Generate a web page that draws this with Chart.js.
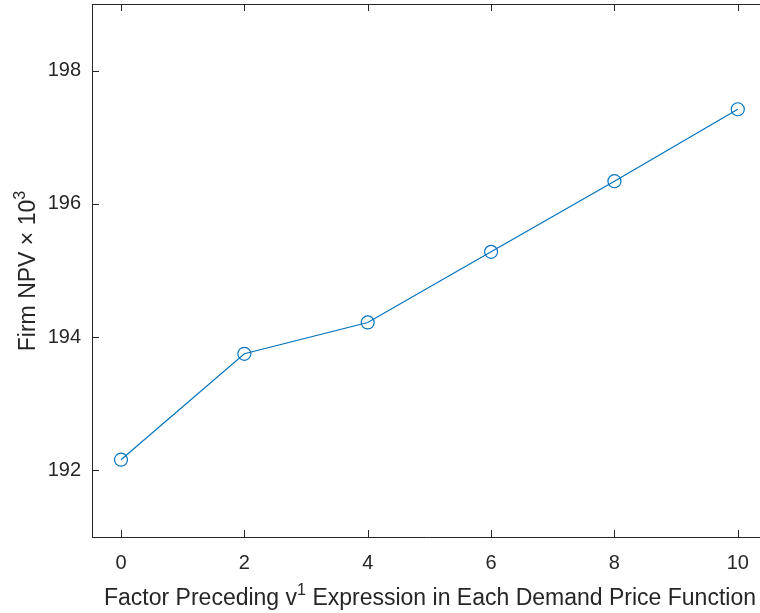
<!DOCTYPE html>
<html>
<head>
<meta charset="utf-8">
<script src="https://cdn.jsdelivr.net/npm/chart.js@4.4.0/dist/chart.umd.min.js"></script>
<style>
  html, body { margin: 0; padding: 0; background: #fff; overflow: hidden; }
  #wrap { width: 760px; height: 613px; position: relative; }
</style>
</head>
<body>
<div id="wrap"><canvas id="chart"></canvas></div>
<script>
// data
const factorValues = [0, 2, 4, 6, 8, 10];
const npvValues = [192.16, 193.75, 194.22, 195.28, 196.34, 197.42];
const xTickValues = [0, 2, 4, 6, 8, 10];
const yTickValues = [192, 194, 196, 198];

const axisColor = "#262626";
const lineColor = "#0072BD";
const fontName = "'Liberation Sans', Arial, sans-serif";

// draws text parts, some of them raised as superscripts
function drawParts(ctx, parts, size) {
    let total = 0;
    parts.forEach(p => {
        ctx.font = (p.sup ? size * 0.7 : size) + "px " + fontName;
        p.w = ctx.measureText(p.text).width;
        total += p.w;
    });
    let x = -total / 2;
    parts.forEach(p => {
        ctx.font = (p.sup ? size * 0.7 : size) + "px " + fontName;
        ctx.fillText(p.text, x, p.sup ? -size * 0.45 : 0);
        x += p.w;
    });
}

// no extra room for tick labels, the plot box is fixed
function noPadding(scale) {
    scale.paddingTop = 0;
    scale.paddingBottom = 0;
    scale.paddingLeft = 0;
    scale.paddingRight = 0;
}

const matlabAxes = {
    id: "matlabAxes",
    afterDraw(chart) {
        const ctx = chart.ctx;
        const area = chart.chartArea;
        const xs = chart.scales.x;
        const ys = chart.scales.y;
        const tl = 7;
        ctx.save();
        ctx.strokeStyle = axisColor;
        ctx.lineWidth = 1;
        ctx.beginPath();
        // top border
        ctx.moveTo(area.left, area.top + 0.5);
        ctx.lineTo(area.right, area.top + 0.5);
        // inward ticks
        xTickValues.forEach(v => {
            let px = Math.round(xs.getPixelForValue(v)) + 0.5;
            ctx.moveTo(px, area.bottom);
            ctx.lineTo(px, area.bottom - tl);
            ctx.moveTo(px, area.top);
            ctx.lineTo(px, area.top + tl);
        });
        yTickValues.forEach(v => {
            let py = Math.round(ys.getPixelForValue(v)) + 0.5;
            ctx.moveTo(area.left, py);
            ctx.lineTo(area.left + tl, py);
        });
        ctx.stroke();

        // axis titles
        ctx.fillStyle = axisColor;
        ctx.textBaseline = "alphabetic";
        ctx.textAlign = "left";
        ctx.save();
        ctx.translate(430, 605);
        drawParts(ctx, [
            {text: "Factor Preceding v"},
            {text: "1", sup: true},
            {text: " Expression in Each Demand Price Function"}
        ], 23);
        ctx.restore();

        ctx.save();
        ctx.translate(35, 271);
        ctx.rotate(-Math.PI / 2);
        drawParts(ctx, [
            {text: "Firm NPV \u00d7 10"},
            {text: "3", sup: true}
        ], 23);
        ctx.restore();
        ctx.restore();
    }
};

new Chart(document.getElementById("chart"), {
    type: "line",
    data: {
        datasets: [{
            data: factorValues.map((x, i) => ({x: x, y: npvValues[i]})),
            borderColor: lineColor,
            borderWidth: 1.2,
            backgroundColor: "transparent",
            pointStyle: "circle",
            pointRadius: 6.5,
            pointBorderWidth: 1.2,
            pointBorderColor: lineColor,
            pointBackgroundColor: "transparent",
            tension: 0,
            fill: false
        }]
    },
    options: {
        responsive: true,
        maintainAspectRatio: false,
        animation: false,
        layout: { autoPadding: false, padding: { top: 4, right: 0, left: 0, bottom: 0 } },
        plugins: {
            legend: { display: false },
            tooltip: { enabled: false }
        },
        scales: {
            x: {
                type: "linear",
                min: -0.47,
                max: 10.36,
                afterBuildTicks: scale => {
                    scale.ticks = xTickValues.map(v => ({value: v}));
                },
                afterFit: scale => { scale.height = 76; noPadding(scale); },
                grid: { display: false, drawTicks: false },
                border: { display: true, color: axisColor, width: 1 },
                ticks: {
                    color: axisColor,
                    font: { family: fontName, size: 20 },
                    padding: 14,
                    maxRotation: 0
                }
            },
            y: {
                type: "linear",
                min: 191,
                max: 199,
                afterBuildTicks: scale => {
                    scale.ticks = yTickValues.map(v => ({value: v}));
                },
                afterFit: scale => { scale.width = 92; noPadding(scale); },
                grid: { display: false, drawTicks: false },
                border: { display: true, color: axisColor, width: 1 },
                ticks: {
                    color: axisColor,
                    font: { family: fontName, size: 20 },
                    padding: 11
                }
            }
        }
    },
    plugins: [matlabAxes]
});
</script>
</body>
</html>
